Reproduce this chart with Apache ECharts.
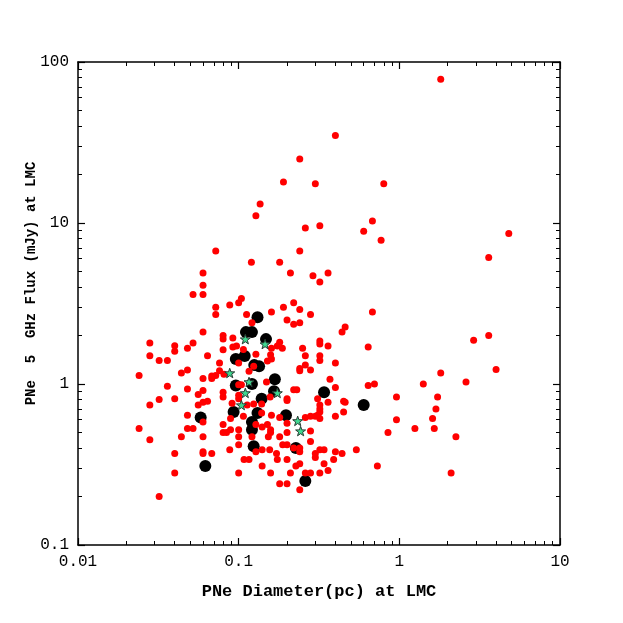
<!DOCTYPE html>
<html><head><meta charset="utf-8">
<script src="https://cdn.jsdelivr.net/npm/echarts@6/dist/echarts.min.js"></script>
<style>html,body{margin:0;padding:0;background:#fff}#c{width:623px;height:623px}</style>
</head><body><div id="c"></div>
<script>
// ---- axis ticks / labels ----
const xTickValues = [0.01, 0.1, 1, 10];
const yTickValues = [0.1, 1, 10, 100];
const minorMultipliers = [2, 3, 4, 5, 6, 7, 8, 9];
const xTitle = 'PNe Diameter(pc) at LMC';
const yTitle = 'PNe  5  GHz Flux (mJy) at LMC';

// ---- red points (all PNe) ----
const redX = [
1.81,0.40,0.24,0.19,0.30,0.80,0.136,0.128,0.26,0.32,0.68,0.60,0.77,4.8,3.6,0.072,0.24,0.12,0.18,0.21,0.29,0.36,0.32,0.060,0.060,
0.68,0.64,0.64,0.70,0.96,1.41,1.81,1.73,1.69,1.61,1.65,1.25,0.96,0.85,0.54,0.73,2.25,2.1,2.6,2.9,3.6,4.0,
0.052,0.060,0.072,0.072,0.088,0.10,0.104,0.060,0.028,0.028,0.032,0.036,0.040,0.040,0.048,0.052,0.064,0.080,0.080,0.092,0.080,0.092,0.097,0.076,0.076,0.081,0.024,0.044,0.048,0.060,0.068,0.068,0.072,0.036,0.048,0.060,0.056,0.080,0.080,0.032,0.040,0.060,0.064,0.056,0.028,0.048,
0.19,0.22,0.24,0.16,0.112,0.28,0.20,0.22,0.24,0.121,0.46,0.44,0.18,0.174,0.187,0.16,0.25,0.32,0.32,0.36,0.107,0.128,0.158,0.26,0.32,0.16,0.32,0.40,0.10,0.151,0.26,0.24,0.24,0.116,0.28,0.124,0.10,0.104,0.149,0.22,0.23,0.31,0.37,0.40,0.45,0.20,0.20,0.157,0.139,0.124,0.10,0.10,0.139,0.16,0.18,0.26,0.28,0.30,0.31,0.32,0.40,0.45,0.107,0.32,
0.091,0.113,0.20,0.089,0.080,0.080,0.084,0.089,0.060,0.060,0.10,0.10,0.10,0.121,0.128,0.14,0.151,0.158,0.158,0.153,0.18,0.20,0.188,0.20,0.24,0.24,0.22,0.28,0.28,0.32,0.32,0.46,0.36,0.32,0.34,0.30,0.30,0.40,0.44,0.39,0.34,0.36,0.32,0.28,0.26,0.24,0.227,0.21,0.20,0.174,0.172,0.14,0.158,0.128,0.14,0.156,0.108,0.116,0.088,0.10,0.18,0.20,0.24,0.068,0.060,0.060,
0.024,0.048,0.052,0.044,0.028,0.040,0.040,0.032
];
const redY = [
78,35,25,18,17.5,17.5,13.1,11.1,9.3,9.6,10.3,8.9,7.8,8.6,6.1,6.7,6.7,5.7,5.7,4.9,4.7,4.9,4.3,4.9,4.1,
2.8,1.7,0.98,1.0,0.83,1.0,1.17,0.83,0.70,0.61,0.53,0.53,0.60,0.50,0.39,0.31,0.47,0.28,1.03,1.87,2.0,1.23,
3.6,3.6,3.0,2.7,3.1,3.2,3.4,2.1,1.8,1.5,1.4,1.4,1.73,1.6,1.67,1.8,1.5,2.0,1.9,1.93,1.63,1.7,1.72,1.35,1.21,1.15,1.13,1.17,1.22,1.08,1.08,1.12,1.13,0.97,0.93,0.91,0.86,0.89,0.83,0.80,0.81,0.77,0.78,0.74,0.74,0.64,
3.0,3.2,2.9,2.8,2.7,2.7,2.5,2.35,2.4,2.4,2.26,2.1,1.82,1.72,1.67,1.67,1.67,1.85,1.77,1.72,1.64,1.53,1.52,1.50,1.50,1.43,1.40,1.35,1.35,1.39,1.31,1.25,1.21,1.20,1.22,1.29,0.99,0.99,1.03,0.92,0.92,0.81,1.07,0.95,0.78,0.81,0.79,0.83,0.75,0.75,0.81,0.85,0.66,0.64,0.62,0.62,0.63,0.63,0.64,0.61,0.63,0.67,0.63,0.67,
0.76,0.74,0.57,0.61,0.56,0.50,0.50,0.52,0.58,0.47,0.52,0.47,0.42,0.47,0.56,0.54,0.56,0.52,0.50,0.47,0.47,0.50,0.42,0.42,0.40,0.38,0.40,0.51,0.44,0.70,0.74,0.77,0.77,0.39,0.39,0.37,0.35,0.38,0.37,0.34,0.32,0.29,0.28,0.28,0.28,0.32,0.31,0.28,0.34,0.34,0.37,0.31,0.28,0.38,0.39,0.39,0.34,0.34,0.39,0.28,0.24,0.24,0.22,0.37,0.38,0.37,
0.53,0.53,0.53,0.47,0.45,0.37,0.28,0.20
];

// ---- black points ----
const blackX = [0.131,0.111,0.121,0.148,0.109,0.096,0.125,0.134,0.168,0.121,0.096,0.34,0.166,0.139,0.60,0.093,0.131,0.197,0.058,0.121,0.121,0.124,0.227,0.062,0.26];
const blackY = [2.6,2.1,2.1,1.9,1.49,1.43,1.31,1.29,1.07,1.0,0.98,0.89,0.90,0.81,0.74,0.67,0.66,0.64,0.62,0.58,0.52,0.41,0.40,0.31,0.25];

// ---- star points ----
const starX = [0.110,0.146,0.088,0.116,0.110,0.174,0.104,0.233,0.243];
const starY = [1.9,1.77,1.17,1.03,0.88,0.88,0.74,0.59,0.51];

const zip = (xs, ys) => xs.map((x, i) => [x, ys[i]]);
const minorLog = (majors) => {
  const out = [];
  for (let i = 0; i < majors.length - 1; i++) minorMultipliers.forEach(m => out.push(Math.log10(majors[i] * m)));
  return out;
};
const xMinor = minorLog(xTickValues);
const yMinor = minorLog(yTickValues);
const xLogMin = Math.log10(xTickValues[0]), xLogMax = Math.log10(xTickValues[xTickValues.length - 1]);
const yLogMin = Math.log10(yTickValues[0]), yLogMax = Math.log10(yTickValues[yTickValues.length - 1]);

const FONT = "'Liberation Mono', 'DejaVu Sans Mono', monospace";
const lineStyle = { color: '#000', width: 1.5 };
const majorAxis = (pos, min, max, showLabel, extra) => Object.assign({
  type: 'log', logBase: 10, min, max, position: pos,
  axisLine: { show: true, onZero: false, lineStyle },
  axisTick: { show: true, inside: true, length: 7, lineStyle: { color: '#000', width: 1.2 } },
  axisLabel: { show: showLabel, fontFamily: FONT, fontSize: 16, color: '#000', margin: 9, formatter: v => String(v) },
  splitLine: { show: false }, minorTick: { show: false }, minorSplitLine: { show: false }
}, extra || {});
const minorAxis = (pos, min, max, vals) => ({
  type: 'value', min, max, position: pos,
  axisLine: { show: false, onZero: false },
  axisTick: { show: true, inside: true, length: 4, customValues: vals, lineStyle: { color: '#000', width: 1 } },
  axisLabel: { show: false }, splitLine: { show: false }
});

const chart = echarts.init(document.getElementById('c'), null, { renderer: 'canvas' });
chart.setOption({
  animation: false,
  backgroundColor: '#fff',
  grid: { left: 78, right: 63, top: 62, bottom: 78 },
  xAxis: [
    majorAxis('bottom', xTickValues[0], xTickValues[3], true, {
      name: xTitle, nameLocation: 'middle', nameGap: 38,
      nameTextStyle: { fontFamily: FONT, fontWeight: 'bold', fontSize: 17, color: '#000' }
    }),
    majorAxis('top', xTickValues[0], xTickValues[3], false),
    minorAxis('bottom', xLogMin, xLogMax, xMinor),
    minorAxis('top', xLogMin, xLogMax, xMinor)
  ],
  yAxis: [
    majorAxis('left', yTickValues[0], yTickValues[3], true, {
      name: yTitle, nameLocation: 'middle', nameGap: 40, nameMoveOverlap: false,
      nameTextStyle: { fontFamily: FONT, fontWeight: 'bold', fontSize: 14, color: '#000', padding: [0, 0, 0, 40] }
    }),
    majorAxis('right', yTickValues[0], yTickValues[3], false),
    minorAxis('left', yLogMin, yLogMax, yMinor),
    minorAxis('right', yLogMin, yLogMax, yMinor)
  ],
  series: [
    { type: 'scatter', name: 'black', data: zip(blackX, blackY), xAxisIndex: 0, yAxisIndex: 0,
      symbol: 'circle', symbolSize: 12, itemStyle: { color: '#000', opacity: 1 }, z: 2 },
    { type: 'scatter', name: 'red', data: zip(redX, redY), xAxisIndex: 0, yAxisIndex: 0,
      symbol: 'circle', symbolSize: 7, itemStyle: { color: '#ff0000', opacity: 1 }, z: 3 },
    { type: 'scatter', name: 'star', data: zip(starX, starY), xAxisIndex: 0, yAxisIndex: 0,
      symbol: 'path://M0,-10L2.35,-3.24L9.51,-3.09L3.8,1.24L5.88,8.09L0,4L-5.88,8.09L-3.8,1.24L-9.51,-3.09L-2.35,-3.24Z',
      symbolKeepAspect: true, symbolSize: 10,
      itemStyle: { color: '#3fd890', borderColor: '#2a3a33', borderWidth: 1, opacity: 1 }, z: 4 }
  ]
});
</script>
</body></html>
